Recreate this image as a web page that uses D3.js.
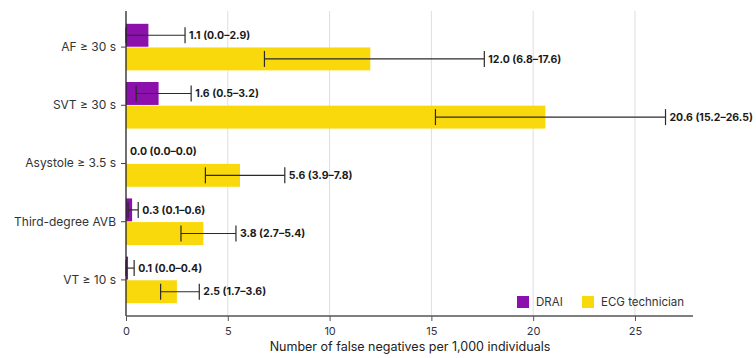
<!DOCTYPE html>
<html>
<head>
<meta charset="utf-8">
<script src="https://cdn.jsdelivr.net/npm/d3@7"></script>
<style>
body { margin: 0; background: #fff; }
text { font-family: "Inter", "Noto Sans", sans-serif; }
</style>
</head>
<body>
<div id="chart"></div>
<script>
var categories = ["AF \u2265 30 s", "SVT \u2265 30 s", "Asystole \u2265 3.5 s", "Third-degree AVB", "VT \u2265 10 s"];
var seriesNames = ["DRAI", "ECG technician"];
var draiValue = [1.1, 1.6, 0.0, 0.3, 0.1];
var draiLow = [0.0, 0.5, 0.0, 0.1, 0.0];
var draiHigh = [2.9, 3.2, 0.0, 0.6, 0.4];
var ecgValue = [12.0, 20.6, 5.6, 3.8, 2.5];
var ecgLow = [6.8, 15.2, 3.9, 2.7, 1.7];
var ecgHigh = [17.6, 26.5, 7.8, 5.4, 3.6];
var xTicks = [0, 5, 10, 15, 20, 25];
var colors = ["#8c10ab", "#f9d90c"];

var width = 756, height = 358;
var plotLeft = 126, plotRight = 693, plotTop = 11, plotBottom = 316;

var svg = d3.select("#chart").append("svg")
	.attr("width", width).attr("height", height);

var x = d3.scaleLinear().domain([0, 27.85]).range([plotLeft, plotRight]);
var y = d3.scaleBand().domain(categories).range([plotTop, plotBottom])
	.paddingInner(0.2).paddingOuter(0.22);
var sub = d3.scaleBand().domain(seriesNames).range([0, y.bandwidth()]).paddingInner(0.03);

// gridlines
svg.append("g").selectAll("line")
	.data(xTicks.filter(function(d) { return d > 0; }))
	.enter().append("line")
	.attr("x1", function(d) { return x(d); })
	.attr("x2", function(d) { return x(d); })
	.attr("y1", plotTop).attr("y2", plotBottom)
	.attr("stroke", "#dedede").attr("stroke-width", 1);

var rows = categories.map(function(c, i) {
	return [
		{cat: c, s: seriesNames[0], v: draiValue[i], lo: draiLow[i], hi: draiHigh[i], color: colors[0]},
		{cat: c, s: seriesNames[1], v: ecgValue[i], lo: ecgLow[i], hi: ecgHigh[i], color: colors[1]}
	];
}).flat();

var fmt = d3.format(".1f");
var mid = function(d) { return y(d.cat) + sub(d.s) + sub.bandwidth() / 2; };
var g = svg.append("g");

g.selectAll("rect").data(rows).enter().append("rect")
	.attr("x", x(0))
	.attr("y", function(d) { return y(d.cat) + sub(d.s); })
	.attr("width", function(d) { return x(d.v) - x(0); })
	.attr("height", sub.bandwidth())
	.attr("fill", function(d) { return d.color; });

var capH = 16;
var eb = g.selectAll("g.err").data(rows.filter(function(d) { return d.hi > 0; }))
	.enter().append("g").attr("class", "err");
eb.append("line")
	.attr("x1", function(d) { return x(d.lo); })
	.attr("x2", function(d) { return x(d.hi); })
	.attr("y1", mid).attr("y2", mid);
["lo", "hi"].forEach(function(k) {
	eb.append("line")
		.attr("x1", function(d) { return x(d[k]); })
		.attr("x2", function(d) { return x(d[k]); })
		.attr("y1", function(d) { return mid(d) - capH / 2; })
		.attr("y2", function(d) { return mid(d) + capH / 2; });
});
eb.selectAll("line").attr("stroke", "#2a2a2a").attr("stroke-width", 1.2);

g.selectAll("text.val").data(rows).enter().append("text")
	.attr("class", "val")
	.attr("x", function(d) { return x(d.hi) + 4; })
	.attr("y", mid)
	.attr("dy", "0.35em")
	.attr("font-size", 10.5).attr("font-weight", 700).attr("fill", "#1a1a1a")
	.text(function(d) { return fmt(d.v) + " (" + fmt(d.lo) + "\u2013" + fmt(d.hi) + ")"; });

// y axis
var yAxis = svg.append("g").attr("transform", "translate(" + plotLeft + ",0)")
	.call(d3.axisLeft(y).tickSize(5).tickPadding(5));
yAxis.select(".domain").attr("stroke", "#222").attr("stroke-width", 1.3)
	.attr("d", "M0," + plotTop + "V" + plotBottom);
yAxis.selectAll(".tick line").attr("stroke", "#444");
yAxis.selectAll(".tick text").attr("font-size", 12).attr("fill", "#333")
	.style("font-family", "Inter, 'Noto Sans', sans-serif");

// x axis
var xAxis = svg.append("g").attr("transform", "translate(0," + plotBottom + ")")
	.call(d3.axisBottom(x).tickValues(xTicks).tickSize(5).tickPadding(6));
xAxis.select(".domain").attr("stroke", "#555").attr("stroke-width", 1.5)
	.attr("d", "M" + plotLeft + ",0H" + plotRight);
xAxis.selectAll(".tick line").attr("stroke", "#555");
xAxis.selectAll(".tick text").attr("font-size", 11).attr("fill", "#334")
	.style("font-family", "Inter, 'Noto Sans', sans-serif");

svg.append("text")
	.attr("x", 410).attr("y", 351)
	.attr("text-anchor", "middle")
	.attr("font-size", 12.5).attr("fill", "#222")
	.text("Number of false negatives per 1,000 individuals");

// legend
var legX = [517, 582];
var leg = svg.append("g").selectAll("g").data(seriesNames).enter().append("g")
	.attr("transform", function(d, i) { return "translate(" + legX[i] + ",296)"; });
leg.append("rect").attr("width", 12).attr("height", 12)
	.attr("fill", function(d, i) { return colors[i]; });
leg.append("text").attr("x", 19).attr("y", 6).attr("dy", "0.35em")
	.attr("font-size", 11.5).attr("fill", "#333")
	.text(function(d) { return d; });
</script>
</body>
</html>
